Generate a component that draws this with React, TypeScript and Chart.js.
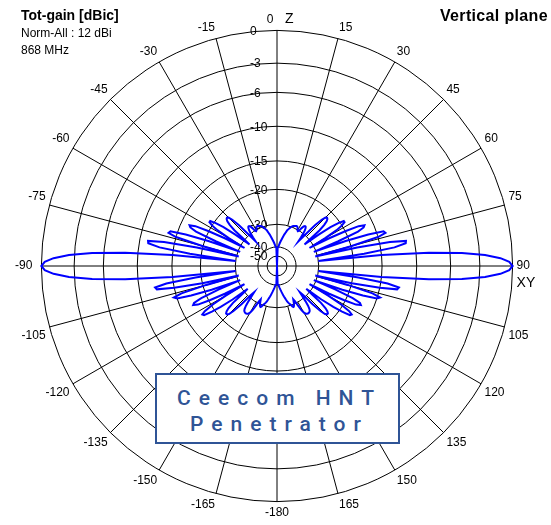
import React, { useEffect, useRef } from 'react';
import { Chart, registerables, RadialLinearScale } from 'chart.js';

Chart.register(...registerables);

const FONT = "'Liberation Sans', Arial, sans-serif";

// Angle tick labels every 15 degrees, clockwise from the top
const angleTickLabels = ['0', '15', '30', '45', '60', '75', '90', '105', '120', '135', '150', '165',
  '-180', '-165', '-150', '-135', '-120', '-105', '-90', '-75', '-60', '-45', '-30', '-15'];
const axisNames = ['Z', 'XY'];

// Radial rings (dB) and their place on the (non-linear) ARRL-like scale
const ringDb = [-50, -40, -30, -20, -15, -10, -6, -3, 0];
const ringFraction = [0.042, 0.081, 0.177, 0.325, 0.446, 0.593, 0.737, 0.861, 1];
const spokeStartDb = -30;

// Normalised gain (dB) by elevation above the horizon, 0..90 degrees
const upperGain = [
  0, -0.3, -1.1, -2.5, -4.8, -8.5, -15, -30, -18, -13,
  -11.3, -11.2, -13.5, -19, -31, -20, -15, -13.8, -14, -16.5,
  -21, -31, -23, -18, -16.8, -16.5, -17.5, -20, -25, -32,
  -26, -22, -20, -19.3, -19.3, -20.5, -23, -27, -33, -30,
  -26, -24, -22.8, -22.2, -22, -22.3, -23.5, -26, -30, -34,
  -32, -30, -29, -28.3, -28, -28, -28.3, -29, -30, -30.5,
  -30.3, -29.8, -29.4, -29.2, -29.2, -29.3, -29.4, -29.5, -29.6, -29.8,
  -30, -30.5, -31, -31.5, -32, -32.8, -33.5, -34.2, -35, -35.7,
  -36.4, -37, -37.6, -38.2, -38.8, -39.4, -40, -40.5, -41, -60,
  -42,
];
// Normalised gain (dB) by elevation below the horizon, 0..90 degrees
const lowerGain = [
  0, -0.3, -1.1, -2.5, -4.8, -8.5, -15, -30, -19, -14,
  -12.3, -12.5, -15, -20, -31, -21, -16, -14.6, -15, -17.5,
  -22, -31, -24, -19, -17.5, -17.2, -18, -20.5, -25, -32,
  -25, -20.5, -18.5, -17.8, -18, -19.5, -22, -26, -32, -29,
  -25.5, -23.5, -22.5, -22, -22, -22.5, -24, -27, -31, -33,
  -31, -29, -27.5, -26.5, -26, -25.8, -25.7, -25.7, -25.8, -26,
  -26.5, -27.5, -29, -31, -32, -31, -30, -29.5, -29.3, -29.5,
  -30, -30.5, -31, -31.5, -32.2, -33, -33.8, -34.5, -35.2, -36,
  -36.7, -37.4, -38, -38.6, -39.2, -39.7, -40.2, -40.6, -41, -60,
  -40,
];

const gain: number[] = [];
const angleLabels: string[] = [];
for (let t = 0; t < 360; t++) {
  if (t <= 90) gain.push(upperGain[90 - t]);
  else if (t <= 180) gain.push(lowerGain[t - 90]);
  else if (t <= 270) gain.push(lowerGain[270 - t]);
  else gain.push(upperGain[t - 270]);
  angleLabels.push(t % 15 === 0 ? angleTickLabels[t / 15] : '');
}

function gainToFraction(v: number): number {
  if (v >= ringDb[ringDb.length - 1]) return 1;
  if (v <= ringDb[0]) {
    const f = ringFraction[0] * (1 - (ringDb[0] - v) / 10);
    return Math.max(0, f);
  }
  for (let i = 0; i < ringDb.length - 1; i++) {
    const a = ringDb[i];
    const b = ringDb[i + 1];
    if (v >= a && v <= b) {
      const k = (v - a) / (b - a);
      return ringFraction[i] + k * (ringFraction[i + 1] - ringFraction[i]);
    }
  }
  return 0;
}

class GainRadialScale extends RadialLinearScale {
  static id = 'gainRadial';

  getDistanceFromCenterForValue(value: number) {
    if (value === null || value === undefined || isNaN(value)) return NaN;
    return (this as any).drawingArea * gainToFraction(value);
  }

  drawGrid(area: any) {
    super.drawGrid(area);
    const self = this as any;
    const ctx = self.ctx as CanvasRenderingContext2D;
    const inner = this.getDistanceFromCenterForValue(spokeStartDb);
    const n = self._pointLabels.length;
    ctx.save();
    ctx.strokeStyle = '#000';
    ctx.lineWidth = 1;
    for (let i = 0; i < n; i += 15) {
      if (i % 90 === 0) continue;
      const a = self.getPointPosition(i, inner);
      const b = self.getPointPosition(i, self.drawingArea);
      ctx.beginPath();
      ctx.moveTo(a.x, a.y);
      ctx.lineTo(b.x, b.y);
      ctx.stroke();
    }
    ctx.restore();
  }

  drawLabels() {
    const self = this as any;
    const ctx = self.ctx as CanvasRenderingContext2D;
    ctx.save();
    ctx.font = `12px ${FONT}`;
    ctx.fillStyle = '#000';
    ctx.textAlign = 'left';
    ctx.textBaseline = 'middle';
    self.ticks.forEach((t: any) => {
      const d = this.getDistanceFromCenterForValue(t.value);
      ctx.fillText(String(t.value), self.xCenter - 27, self.yCenter - d + 1);
    });
    ctx.restore();
  }
}
Chart.register(GainRadialScale);

const axisNamePlugin = {
  id: 'axisNames',
  afterDraw(chart: any) {
    const s = chart.scales.r;
    const ctx = chart.ctx as CanvasRenderingContext2D;
    const R = s.drawingArea;
    ctx.save();
    ctx.fillStyle = '#000';
    ctx.textBaseline = 'alphabetic';
    ctx.font = `12px ${FONT}`;
    ctx.textAlign = 'center';
    ctx.fillText(angleTickLabels[0], s.xCenter - 7, s.yCenter - R - 7);
    ctx.font = `14px ${FONT}`;
    ctx.textAlign = 'left';
    ctx.fillText(axisNames[0], s.xCenter + 8, s.yCenter - R - 7);
    ctx.fillText(axisNames[1], s.xCenter + R + 4, s.yCenter + 21);
    ctx.restore();
  },
};

export default function App() {
  const canvasRef = useRef<HTMLCanvasElement | null>(null);

  useEffect(() => {
    if (!canvasRef.current) return;
    Chart.defaults.font.family = FONT;
    Chart.defaults.color = '#000';
    const chart = new Chart(canvasRef.current, {
      type: 'radar',
      data: {
        labels: angleLabels,
        datasets: [
          {
            label: 'Tot-gain',
            data: gain,
            borderColor: '#0000ff',
            borderWidth: 2,
            pointRadius: 0,
            fill: false,
            tension: 0,
          },
        ],
      },
      options: {
        animation: false,
        responsive: true,
        maintainAspectRatio: false,
        events: [],
        layout: { padding: { left: 0, right: 0, top: 12, bottom: 5 } },
        plugins: { legend: { display: false }, tooltip: { enabled: false }, title: { display: false } },
        scales: {
          r: {
            type: 'gainRadial' as any,
            min: -60,
            max: 0,
            startAngle: 0,
            afterBuildTicks: (scale: any) => {
              scale.ticks = ringDb.map((v) => ({ value: v }));
            },
            ticks: { display: false },
            grid: { circular: true, color: '#000', lineWidth: 1 },
            angleLines: {
              display: true,
              color: '#000',
              lineWidth: (c: any) => (c.index % 90 === 0 ? 1 : 0),
            },
            pointLabels: {
              display: true,
              font: { size: 12, family: FONT },
              color: '#000',
              padding: (c: any) => (c.index === 270 ? 9 : 4),
              callback: (label: string, index: number) => (index === 0 ? '' : label),
            },
          },
        },
      },
      plugins: [axisNamePlugin],
    });
    return () => chart.destroy();
  }, []);

  return (
    <div style={{ position: 'absolute', left: 0, top: 0, width: 551, height: 525, background: '#fff' }}>
      <canvas ref={canvasRef} />
      <div style={{ position: 'absolute', left: 21, top: 7, font: `bold 14px/16px ${FONT}`, color: '#000', whiteSpace: 'nowrap' }}>
        Tot-gain [dBic]
      </div>
      <div style={{ position: 'absolute', left: 21, top: 26, font: `12px/14px ${FONT}`, color: '#000', whiteSpace: 'nowrap' }}>
        Norm-All : 12 dBi
      </div>
      <div style={{ position: 'absolute', left: 21, top: 43, font: `12px/14px ${FONT}`, color: '#000', whiteSpace: 'nowrap' }}>
        868 MHz
      </div>
      <div style={{ position: 'absolute', right: 3, top: 7, font: `bold 16px/18px ${FONT}`, letterSpacing: '0.35px', color: '#000', whiteSpace: 'nowrap' }}>
        Vertical plane
      </div>
      <div
        style={{
          position: 'absolute',
          left: 155,
          top: 373,
          width: 245,
          height: 71,
          boxSizing: 'border-box',
          border: '2px solid #2f5496',
          background: '#fff',
          color: '#2f5496',
          font: `500 21px/26px Roboto, 'DejaVu Sans', sans-serif`,
          letterSpacing: '8px',
          textAlign: 'center',
          paddingTop: 10,
          paddingLeft: 4,
        }}
      >
        <div>Ceecom HNT</div>
        <div>Penetrator</div>
      </div>
    </div>
  );
}
